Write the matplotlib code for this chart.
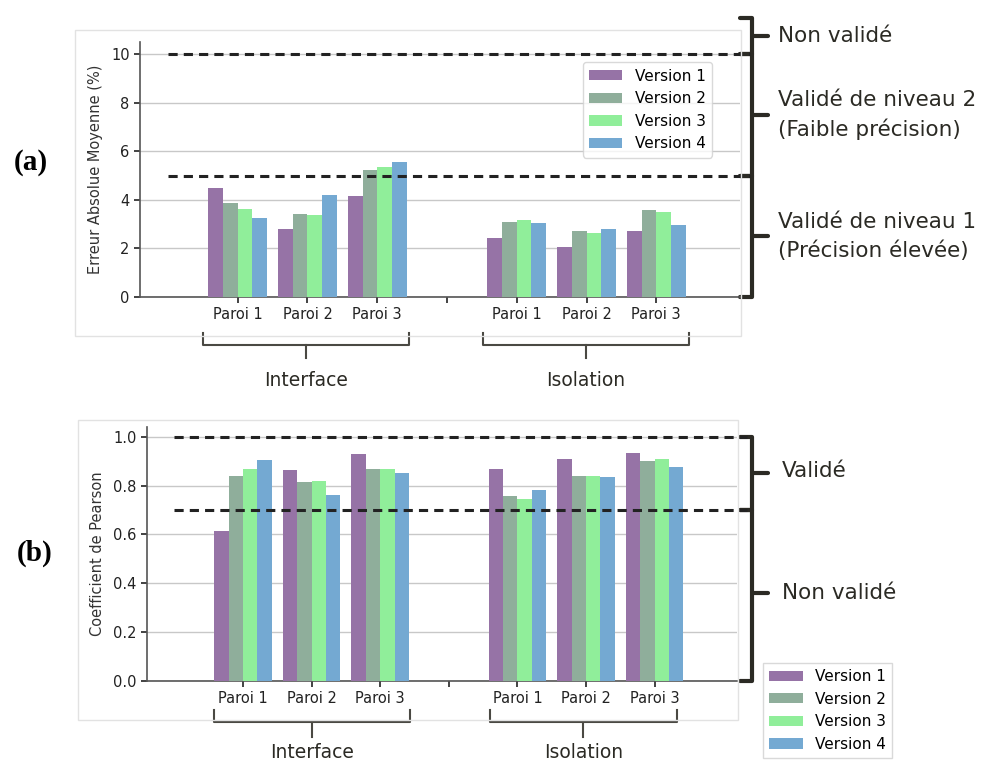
import numpy as np
import matplotlib
matplotlib.use("Agg")
import matplotlib.pyplot as plt
from matplotlib.transforms import blended_transform_factory
from matplotlib.patches import Rectangle

# --- data -------------------------------------------------------------
walls = ["Paroi 1", "Paroi 2", "Paroi 3", "", "Paroi 1", "Paroi 2", "Paroi 3"]
groups = ["Interface", "Isolation"]
versions = ["Version 1", "Version 2", "Version 3", "Version 4"]
colors = ["#9673a6", "#8fae9b", "#90ee9a", "#74a9d2"]

# mean absolute error (%) : interface P1..P3 then isolation P1..P3
mae_v1 = [4.48, 2.78, 4.15, 2.45, 2.07, 2.72]
mae_v2 = [3.88, 3.43, 5.25, 3.10, 2.72, 3.57]
mae_v3 = [3.62, 3.37, 5.37, 3.17, 2.65, 3.50]
mae_v4 = [3.25, 4.20, 5.57, 3.05, 2.78, 2.98]

# pearson coefficient
r_v1 = [0.615, 0.865, 0.930, 0.870, 0.910, 0.935]
r_v2 = [0.840, 0.815, 0.870, 0.757, 0.840, 0.902]
r_v3 = [0.870, 0.820, 0.870, 0.745, 0.840, 0.910]
r_v4 = [0.905, 0.762, 0.853, 0.783, 0.835, 0.878]

mae_limits = [5, 10]
r_limits = [0.7, 1.0]

W, H = 989, 764
fig = plt.figure(figsize=(W / 100, H / 100), dpi=100)
plt.rcParams["font.family"] = "DejaVu Sans"

def fx(px):
    return px / W

def fy(py):
    return 1 - py / H

ink = "#2b2a24"
ann_font = "DejaVu Sans"
ann_size = 15.5

# light screenshot frames around each panel
fig.patches.append(Rectangle((fx(75), fy(336)), fx(741) - fx(75), fy(30) - fy(336),
                             transform=fig.transFigure, fill=False, ec="#e2e2e2", lw=1))
fig.patches.append(Rectangle((fx(78), fy(720)), fx(738) - fx(78), fy(420) - fy(720),
                             transform=fig.transFigure, fill=False, ec="#e2e2e2", lw=1))

xpos = np.array([0, 1, 2, 4, 5, 6])
width = 0.21


def draw_panel(ax, series, limits, ylabel, ylim, yticks, yfmt):
    for i, (vals, c, lab) in enumerate(zip(series, colors, versions)):
        ax.bar(xpos + (i - 1.5) * width, vals, width, color=c, label=lab, zorder=3)
    for lim in limits:
        ax.plot([-1.0, 7.35], [lim, lim], ls="--", color="#222222", lw=2.2,
                dashes=(3, 2), zorder=4, clip_on=False)
    ax.set_xlim(-1.4, 7.2)
    ax.set_ylim(*ylim)
    ax.set_yticks(yticks)
    ax.set_yticklabels([yfmt.format(t) for t in yticks])
    ax.set_xticks(range(7))
    ax.set_xticklabels(walls)
    ax.set_ylabel(ylabel, fontsize=10.5, color="#333333", labelpad=6)
    ax.grid(axis="y", color="#c8c8c8", lw=1, zorder=0)
    ax.set_axisbelow(True)
    for s in ["top", "right"]:
        ax.spines[s].set_visible(False)
    for s in ["left", "bottom"]:
        ax.spines[s].set_color("#555555")
        ax.spines[s].set_linewidth(1.2)
    ax.tick_params(labelsize=10.5, colors="#222222", length=4, width=1.2)


def vbrace(ax, x_px, y0, y1, ymid=None, lw=3):
    tr = blended_transform_factory(fig.transFigure, ax.transData)
    x = fx(x_px)
    hook = fx(12)
    tip = fx(16)
    if ymid is None:
        ymid = (y0 + y1) / 2
    ax.plot([x - hook, x, x, x - hook], [y0, y0, y1, y1], color=ink, lw=lw,
            transform=tr, clip_on=False, solid_joinstyle="round", solid_capstyle="round")
    ax.plot([x, x + tip], [ymid, ymid], color=ink, lw=lw, transform=tr,
            clip_on=False, solid_capstyle="round")


def hbrace(ax, x0, x1, py_top, py_line, py_tip, label, py_text, va="center"):
    tr = blended_transform_factory(ax.transData, fig.transFigure)
    xm = (x0 + x1) / 2
    ax.plot([x0, x0, x1, x1], [fy(py_top), fy(py_line), fy(py_line), fy(py_top)],
            color="#4a4943", lw=1.5, transform=tr, clip_on=False, solid_joinstyle="round")
    ax.plot([xm, xm], [fy(py_line), fy(py_tip)], color="#4a4943", lw=1.5,
            transform=tr, clip_on=False)
    ax.text(xm, fy(py_text), label, transform=tr, ha="center", va=va,
            fontsize=13.5, family=ann_font, color=ink)


legend_kw = dict(fontsize=11, frameon=True, edgecolor="#d0d0d0", handlelength=2.2,
                 handleheight=0.65, labelspacing=0.5, borderaxespad=0)

# --- panel (a) -------------------------------------------------------
ax1 = fig.add_axes([fx(140), fy(297), fx(740) - fx(140), fy(42) - fy(297)])
draw_panel(ax1, [mae_v1, mae_v2, mae_v3, mae_v4], mae_limits,
           "Erreur Absolue Moyenne (%)", (0, 10.5), [0, 2, 4, 6, 8, 10], "{:g}")
ax1.legend(loc="upper right", bbox_to_anchor=(0.953, 0.92), **legend_kw)

vbrace(ax1, 752, 10, 11.48)
vbrace(ax1, 752, 5, 10)
vbrace(ax1, 752, 0, 5)
tra = blended_transform_factory(fig.transFigure, ax1.transData)
ax1.text(fx(778), 10.74, "Non validé", transform=tra, va="center", fontsize=ann_size,
         family=ann_font, color=ink)
ax1.text(fx(778), 7.5, "Validé de niveau 2\n(Faible précision)", transform=tra,
         va="center", fontsize=ann_size, family=ann_font, color=ink, linespacing=1.5)
ax1.text(fx(778), 2.5, "Validé de niveau 1\n(Précision élevée)", transform=tra,
         va="center", fontsize=ann_size, family=ann_font, color=ink, linespacing=1.5)

hbrace(ax1, -0.49, 2.46, 333, 345, 358, groups[0], 380)
hbrace(ax1, 3.51, 6.47, 333, 345, 358, groups[1], 380)

# --- panel (b) -------------------------------------------------------
ax2 = fig.add_axes([fx(147), fy(681), fx(737) - fx(147), fy(427) - fy(681)])
draw_panel(ax2, [r_v1, r_v2, r_v3, r_v4], r_limits,
           "Coefficient de Pearson", (0, 1.04), [0, 0.2, 0.4, 0.6, 0.8, 1.0], "{:.1f}")

vbrace(ax2, 752, 0.7, 1.0)
vbrace(ax2, 752, 0.0, 0.7, ymid=0.36)
trb = blended_transform_factory(fig.transFigure, ax2.transData)
ax2.text(fx(782), 0.86, "Validé", transform=trb, va="center", fontsize=ann_size,
         family=ann_font, color=ink)
ax2.text(fx(782), 0.36, "Non validé", transform=trb, va="center", fontsize=ann_size,
         family=ann_font, color=ink)

hbrace(ax2, -0.42, 2.43, 710, 722, 737, groups[0], 743, va="top")
hbrace(ax2, 3.6, 6.32, 710, 722, 737, groups[1], 743, va="top")

handles, labels = ax2.get_legend_handles_labels()
fig.legend(handles, labels, loc="lower left", bbox_to_anchor=(fx(763), fy(758)),
           fancybox=False, **legend_kw)

# panel letters
fig.text(fx(31), fy(163), "(a)", fontsize=21, fontweight="bold",
         family="Liberation Serif", ha="center", va="center")
fig.text(fx(35), fy(553), "(b)", fontsize=21, fontweight="bold",
         family="Liberation Serif", ha="center", va="center")

fig.savefig("out.png", dpi=100)
